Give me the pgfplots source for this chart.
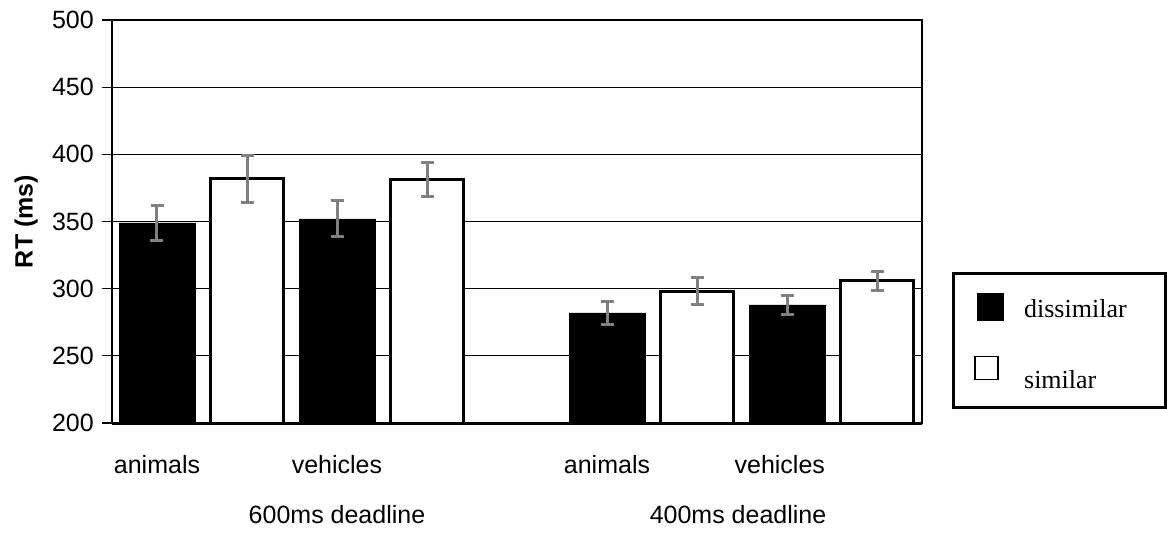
\documentclass[border=0pt]{standalone}
\usepackage{pgfplots}
\pgfplotsset{compat=1.18}
\usepackage{fontspec}
\setmainfont{Liberation Sans}
\newfontfamily\legfont{Liberation Serif}
\definecolor{errgray}{RGB}{128,128,128}
\begin{document}
\begin{tikzpicture}
\useasboundingbox (0,0) rectangle (1167pt,536pt);
\begin{axis}[
  at={(112pt,113pt)}, anchor=south west,
  scale only axis, width=810pt, height=403pt,
  xmin=-0.5, xmax=8.5, ymin=200, ymax=500,
  ytick={200,250,...,500},
  xtick={0,2,5,6.92}, xticklabels={animals,vehicles,animals,vehicles},
  x tick style={draw=none},
  ytick pos=left, tick align=outside, major tick length=10pt,
  y tick style={black, line width=1.3pt},
  ymajorgrids, grid style={black, line width=1.3pt},
  axis line style={black, line width=1.5pt},
  tick label style={font=\fontsize{25}{30}\selectfont},
  /pgf/number format/assume math mode=true,
  yticklabel style={inner sep=0pt, xshift=-8pt},
  xticklabel style={anchor=base, inner sep=0pt, yshift=-40pt},
  ylabel={\bfseries RT (ms)},
  ylabel style={font=\fontsize{25}{30}\selectfont, at={(axis description cs:-0.106,0.5)}, anchor=center},
  clip mode=individual,
  legend cell align=left,
  legend style={draw=none, fill=none, at={(axis description cs:1.0642,0.3226)}, anchor=north west,
    inner sep=0pt, row sep=35pt, font=\legfont\fontsize{26}{28}\selectfont, nodes={inner sep=0pt},
    /tikz/every odd column/.append style={column sep=21pt}},
]
\addplot[ybar, bar width=0.84, bar shift=0pt, fill=black, draw=black,
  legend image code/.code={\fill[black] (0pt,-11pt) rectangle (26pt,16pt);},
  error bars/.cd, y dir=both, y explicit,
  error bar style={errgray, line width=3pt},
  error mark options={rotate=90, errgray, line width=3pt, mark size=6.5pt}]
  coordinates {(0,349) +- (0,13) (2,352) +- (0,13.5) (5,282) +- (0,8.5) (7,288) +- (0,7)};
\addlegendentry{dissimilar}
\addplot[ybar, bar width=0.81, bar shift=0pt, fill=white, draw=black, line width=3pt,
  legend image code/.code={\draw[black, line width=1.5pt, fill=white] (-2pt,1pt) rectangle (21pt,24pt);},
  error bars/.cd, y dir=both, y explicit,
  error bar style={errgray, line width=3pt},
  error mark options={rotate=90, errgray, line width=3pt, mark size=6.5pt}]
  coordinates {(1,382) +- (0,17.5) (3,381) +- (0,12.7) (6,298) +- (0,10) (8,306) +- (0,7)};
\addlegendentry{similar}
\draw[black, line width=3pt] (rel axis cs:0,0) -- (rel axis cs:1,0);
\draw[black, line width=3pt] (rel axis cs:1.0383,0.0397) rectangle (rel axis cs:1.3006,0.3722);
\node[anchor=base, font=\fontsize{25}{30}\selectfont, yshift=-100pt] at (axis cs:2,200) {600ms deadline};
\node[anchor=base, font=\fontsize{25}{30}\selectfont, yshift=-100pt] at (axis cs:6.456,200) {400ms deadline};
\end{axis}
\end{tikzpicture}
\end{document}
